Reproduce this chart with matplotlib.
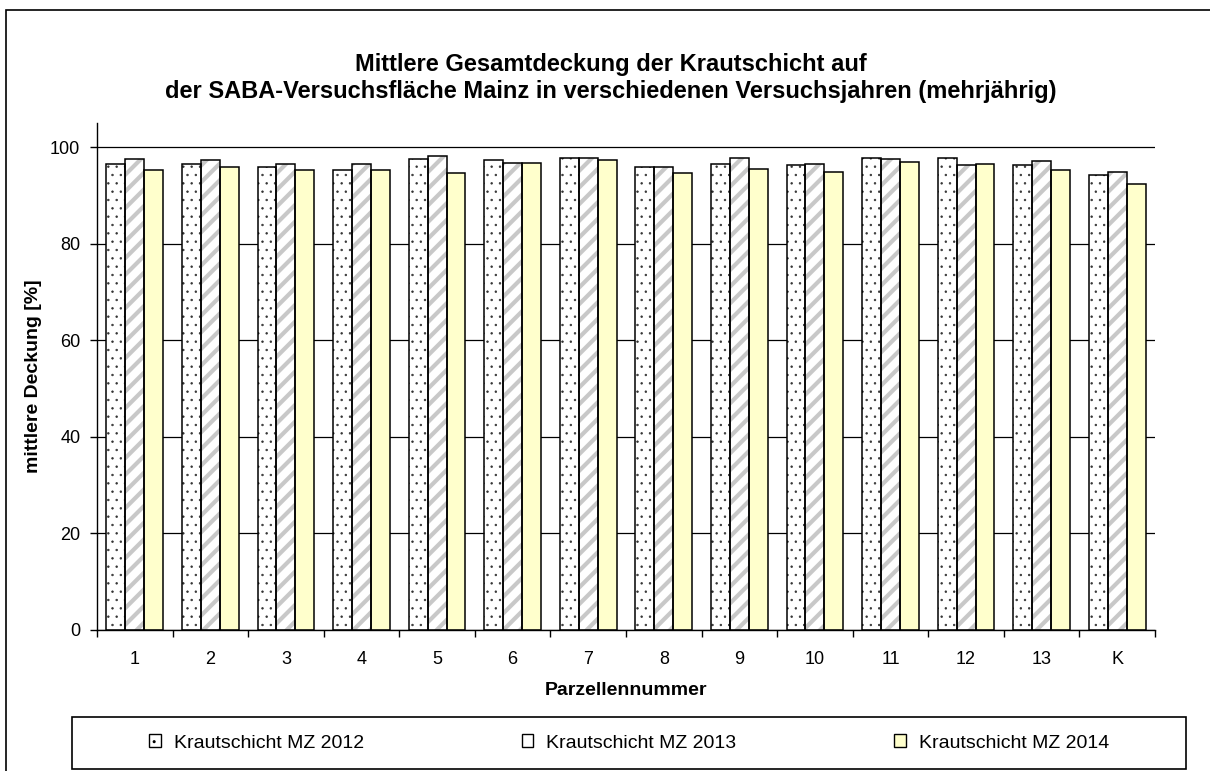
import numpy as np
import matplotlib
matplotlib.use('Agg')
import matplotlib.pyplot as plt
from matplotlib.patches import Patch, Rectangle

# Data
parzellen = ['1', '2', '3', '4', '5', '6', '7', '8', '9', '10', '11', '12', '13', 'K']
mz_2012 = [96.6, 96.6, 95.9, 95.2, 97.5, 97.4, 97.8, 95.9, 96.6, 96.2, 97.8, 97.8, 96.2, 94.3]
mz_2013 = [97.5, 97.4, 96.6, 96.6, 98.1, 96.8, 97.8, 95.9, 97.8, 96.6, 97.5, 96.2, 97.1, 94.8]
mz_2014 = [95.2, 95.9, 95.2, 95.2, 94.6, 96.8, 97.4, 94.6, 95.5, 94.8, 97.0, 96.6, 95.2, 92.4]
labels = ['Krautschicht MZ 2012', 'Krautschicht MZ 2013', 'Krautschicht MZ 2014']

plt.rcParams['font.family'] = ['Liberation Sans', 'DejaVu Sans']
plt.rcParams['hatch.linewidth'] = 1.0


def hatch_width(bars, lw):
    # per-bar hatch line width (works on old and new matplotlib)
    for p in bars:
        if hasattr(p, 'set_hatch_linewidth'):
            p.set_hatch_linewidth(lw)
        orig = p.draw

        def draw(renderer, orig=orig):
            with plt.rc_context({'hatch.linewidth': lw}):
                orig(renderer)
        p.draw = draw


fig = plt.figure(figsize=(12.1, 7.71), dpi=100)
ax = fig.add_axes([97 / 1210, 1 - 630 / 771, (1155 - 97) / 1210, (630 - 123) / 771])

x = np.arange(len(parzellen))
w = 0.25

# fill + hatch layer, then black outline on top
b1 = ax.bar(x - w, mz_2012, w, color='white', hatch='..', edgecolor='#333333', linewidth=0, zorder=2)
b2 = ax.bar(x, mz_2013, w, color='white', hatch='//', edgecolor='#c8c8c8', linewidth=0, zorder=2)
b3 = ax.bar(x + w, mz_2014, w, color='#ffffcc', linewidth=0, zorder=2)
hatch_width(b1, 0.5)
hatch_width(b2, 3.0)
for vals, off in [(mz_2012, -w), (mz_2013, 0), (mz_2014, w)]:
    ax.bar(x + off, vals, w, fill=False, edgecolor='black', linewidth=1.1, zorder=3)

ax.set_xlim(-0.5, len(parzellen) - 0.5)
ax.set_ylim(0, 105)
ax.set_yticks(range(0, 101, 20))
ax.yaxis.grid(True, color='black', linewidth=0.9, zorder=0)
ax.set_axisbelow(True)

ax.set_xticks(x)
ax.set_xticklabels(parzellen)
ax.set_xticks(np.arange(-0.5, len(parzellen)), minor=True)
ax.tick_params(axis='x', which='major', length=0, pad=15, labelsize=13)
ax.tick_params(axis='x', which='minor', length=5, width=1, direction='out')
ax.tick_params(axis='y', length=5, width=1, pad=7, labelsize=13)

for s in ['top', 'right']:
    ax.spines[s].set_visible(False)
for s in ['left', 'bottom']:
    ax.spines[s].set_linewidth(1)

ax.set_xlabel('Parzellennummer', fontsize=14, fontweight='bold', labelpad=10)
ax.set_ylabel('mittlere Deckung [%]', fontsize=14, fontweight='bold', labelpad=6)

fig.text(0.505, 1 - 78 / 771,
         'Mittlere Gesamtdeckung der Krautschicht auf\n'
         'der SABA-Versuchsfläche Mainz in verschiedenen Versuchsjahren (mehrjährig)',
         ha='center', va='center', fontsize=17, fontweight='bold', linespacing=1.2)

# outer frame of the chart area
fig.patches.append(Rectangle((6 / 1210, -0.1), 1.2, 1.1 - 10 / 771, transform=fig.transFigure,
                             fill=False, edgecolor='black', linewidth=1.2))

# legend box
fig.patches.append(Rectangle((72 / 1210, 1 - 769 / 771), (1186 - 72) / 1210, 52 / 771,
                             transform=fig.transFigure, fill=False, edgecolor='black', linewidth=1.2))
handles = [Patch(facecolor='white', edgecolor='black', hatch='..', linewidth=1),
           Patch(facecolor='white', edgecolor='black', linewidth=1),
           Patch(facecolor='#ffffcc', edgecolor='black', linewidth=1)]
fig.legend(handles, labels, loc='center', bbox_to_anchor=(629 / 1210, 1 - 743 / 771),
           ncol=3, frameon=False, fontsize=14, handlelength=0.6, handleheight=0.6,
           handletextpad=0.67, columnspacing=8.1)

fig.savefig('out.png', dpi=100)
